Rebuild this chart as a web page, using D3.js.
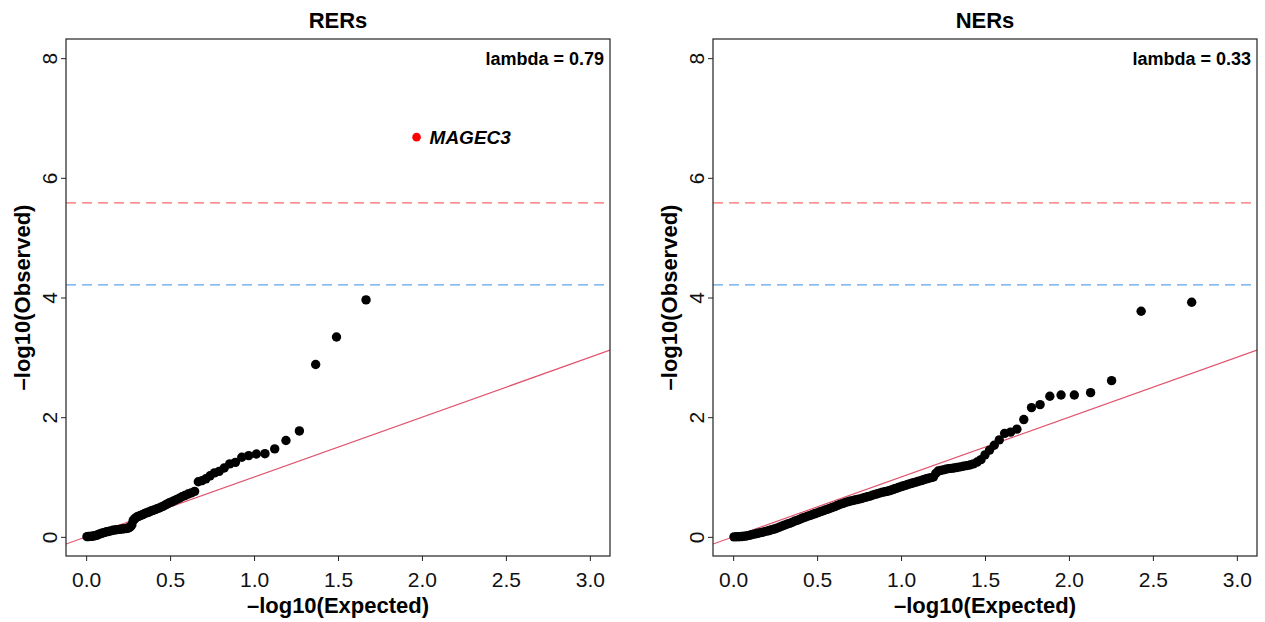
<!DOCTYPE html>
<html>
<head>
<meta charset="utf-8">
<script src="https://cdn.jsdelivr.net/npm/d3@7"></script>
<style>
  body { margin: 0; background: #fff; }
  text { font-family: "Liberation Sans", Arial, Helvetica, sans-serif; }
</style>
</head>
<body>
<script>
// QQ plots of RER and NER association p-values

var panelTitles = ["RERs", "NERs"];
var lambdas = ["0.79", "0.33"];

// thresholds (-log10 p) drawn as dashed horizontal lines
var thresholdValues = [5.58, 4.21];
var thresholdColors = ["#ff6b6b", "#5fa2e8"];

var xTicks = [0, 0.5, 1, 1.5, 2, 2.5, 3];
var yTicks = [0, 2, 4, 6, 8];

// highlighted hit in the RER panel
var hitGenes = ["MAGEC3"];
var hitExpected = [1.968];
var hitObserved = [6.68];

// RERs, sorted from largest to smallest
var rerExpected = [1.667, 1.491, 1.367, 1.270, 1.190, 1.123, 1.065, 1.014, 0.968, 0.927,
  0.889, 0.855, 0.822, 0.792, 0.764, 0.738, 0.713, 0.690, 0.668,
  0.646, 0.626, 0.607, 0.588, 0.571, 0.555, 0.539, 0.524, 0.510, 0.496,
  0.483, 0.470, 0.457, 0.445, 0.433, 0.422, 0.411, 0.400, 0.389, 0.379,
  0.369, 0.359, 0.349, 0.340, 0.331, 0.322, 0.313, 0.304, 0.296, 0.288,
  0.280, 0.272, 0.264, 0.256, 0.248, 0.240, 0.226, 0.212, 0.198, 0.185,
  0.172, 0.159, 0.146, 0.134, 0.122, 0.110, 0.099, 0.088, 0.077, 0.066,
  0.055, 0.045, 0.035, 0.024, 0.014, 0.005];
var rerObserved = [3.96, 3.34, 2.88, 1.77, 1.61, 1.47, 1.39, 1.385, 1.357, 1.33,
  1.245, 1.22, 1.15, 1.095, 1.07, 1.02, 0.97, 0.94, 0.92,
  0.76, 0.735, 0.715, 0.69, 0.67, 0.645, 0.625, 0.605, 0.585, 0.57,
  0.55, 0.53, 0.51, 0.495, 0.48, 0.47, 0.455, 0.445, 0.435, 0.42,
  0.41, 0.40, 0.39, 0.375, 0.365, 0.355, 0.345, 0.335, 0.32, 0.30,
  0.27, 0.20, 0.17, 0.155, 0.145, 0.14, 0.135, 0.13, 0.125, 0.12,
  0.115, 0.11, 0.10, 0.09, 0.085, 0.075, 0.065, 0.055, 0.045, 0.03,
  0.02, 0.015, 0.01, 0.008, 0.005, 0.003];

// NERs, sorted from largest to smallest
var nerExpected = [2.731, 2.430, 2.254, 2.129, 2.032, 1.953, 1.886, 1.828, 1.777, 1.731,
  1.690, 1.652, 1.617, 1.585, 1.555, 1.527, 1.500, 1.476,
  1.453, 1.431, 1.410, 1.390, 1.371, 1.352, 1.334, 1.316, 1.299, 1.283,
  1.267, 1.251, 1.236, 1.221, 1.207, 1.193, 1.179, 1.165, 1.152, 1.139,
  1.126, 1.113, 1.100, 1.088, 1.076, 1.064, 1.052, 1.040, 1.029, 1.018,
  1.007, 0.996, 0.985, 0.975, 0.965, 0.955, 0.945, 0.935, 0.925, 0.915,
  0.905, 0.890, 0.875, 0.860, 0.845, 0.830, 0.815, 0.800, 0.785, 0.770,
  0.755, 0.740, 0.725, 0.710, 0.695, 0.680, 0.665, 0.650, 0.635, 0.620,
  0.605, 0.590, 0.575, 0.560, 0.545, 0.530, 0.515, 0.500, 0.485, 0.470,
  0.455, 0.440, 0.425, 0.410, 0.395, 0.380, 0.365, 0.350, 0.335, 0.320,
  0.305, 0.290, 0.275, 0.260, 0.245, 0.230, 0.215, 0.200, 0.185, 0.170,
  0.155, 0.140, 0.125, 0.110, 0.095, 0.080, 0.065, 0.050, 0.035, 0.020, 0.005];
var nerObserved = [3.92, 3.77, 2.61, 2.41, 2.37, 2.37, 2.35, 2.21, 2.16, 1.96,
  1.80, 1.75, 1.73, 1.62, 1.53, 1.45, 1.37, 1.29,
  1.25, 1.22, 1.20, 1.19, 1.18, 1.17, 1.16, 1.15, 1.145, 1.14,
  1.13, 1.12, 1.11, 1.10, 1.06, 1.00, 0.99, 0.98, 0.97, 0.96,
  0.945, 0.935, 0.925, 0.915, 0.905, 0.895, 0.885, 0.875, 0.865, 0.855,
  0.845, 0.835, 0.825, 0.815, 0.805, 0.795, 0.785, 0.775, 0.768, 0.76,
  0.753, 0.745, 0.735, 0.72, 0.71, 0.695, 0.68, 0.67, 0.66, 0.645,
  0.635, 0.625, 0.615, 0.605, 0.595, 0.585, 0.57, 0.555, 0.54, 0.525,
  0.505, 0.49, 0.475, 0.46, 0.445, 0.43, 0.415, 0.40, 0.385, 0.37,
  0.355, 0.34, 0.325, 0.31, 0.29, 0.275, 0.26, 0.24, 0.225, 0.21,
  0.195, 0.18, 0.16, 0.145, 0.13, 0.12, 0.105, 0.095, 0.085, 0.075,
  0.065, 0.055, 0.045, 0.035, 0.025, 0.015, 0.01, 0.005, 0.002, 0.001, 0];

var svgWidth = 1265, svgHeight = 622;
var boxWidth = 544, boxHeight = 517, boxTop = 39;
var boxLefts = [66, 713];

var svg = d3.select("body")
  .append("svg")
  .attr("width", svgWidth)
  .attr("height", svgHeight);

svg.append("rect")
  .attr("width", svgWidth)
  .attr("height", svgHeight)
  .attr("fill", "#fff");

var panels = [
  { expected: rerExpected, observed: rerObserved, hits: true },
  { expected: nerExpected, observed: nerObserved, hits: false }
];

panels.forEach(function(p, i) {
  // R pads the axis ranges by 4% on each side
  var x = d3.scaleLinear().domain([-0.12, 3.12]).range([0, boxWidth]);
  var y = d3.scaleLinear().domain([-0.32, 8.32]).range([boxHeight, 0]);

  var g = svg.append("g")
    .attr("transform", "translate(" + boxLefts[i] + "," + boxTop + ")");

  g.append("defs").append("clipPath")
    .attr("id", "clip" + i)
    .append("rect")
    .attr("width", boxWidth)
    .attr("height", boxHeight);

  var plot = g.append("g").attr("clip-path", "url(#clip" + i + ")");

  // y = x reference
  plot.append("line")
    .attr("x1", x(-0.12)).attr("y1", y(-0.12))
    .attr("x2", x(3.12)).attr("y2", y(3.12))
    .attr("stroke", "#df536b")
    .attr("stroke-width", 1.2);

  thresholdValues.forEach(function(v, k) {
    plot.append("line")
      .attr("x1", 0).attr("x2", boxWidth)
      .attr("y1", y(v)).attr("y2", y(v))
      .attr("stroke", thresholdColors[k])
      .attr("stroke-width", 1.2)
      .attr("stroke-dasharray", "10,6");
  });

  plot.selectAll("circle.pt")
    .data(d3.range(p.expected.length))
    .enter().append("circle")
    .attr("class", "pt")
    .attr("cx", function(j) { return x(p.expected[j]); })
    .attr("cy", function(j) { return y(p.observed[j]); })
    .attr("r", 4.7)
    .attr("fill", "#000");

  if (p.hits) {
    plot.selectAll("circle.hit")
      .data(hitGenes)
      .enter().append("circle")
      .attr("class", "hit")
      .attr("cx", function(d, j) { return x(hitExpected[j]); })
      .attr("cy", function(d, j) { return y(hitObserved[j]); })
      .attr("r", 4.3)
      .attr("fill", "#ff0000");

    g.selectAll("text.hit")
      .data(hitGenes)
      .enter().append("text")
      .attr("class", "hit")
      .attr("x", function(d, j) { return x(hitExpected[j]) + 13; })
      .attr("y", function(d, j) { return y(hitObserved[j]) + 7; })
      .attr("font-size", 19)
      .attr("font-weight", "bold")
      .attr("font-style", "italic")
      .text(function(d) { return d; });
  }

  // axes
  var xAxis = g.append("g")
    .attr("transform", "translate(0," + boxHeight + ")")
    .call(d3.axisBottom(x).tickValues(xTicks).tickSize(5).tickFormat(d3.format(".1f")));
  xAxis.select(".domain").remove();
  xAxis.selectAll("line").attr("stroke", "#222");
  xAxis.selectAll("text")
    .attr("y", 31).attr("dy", 0)
    .attr("font-size", 21)
    .attr("font-family", "Liberation Sans, Arial, sans-serif")
    .attr("fill", "#111");

  var yAxis = g.append("g")
    .call(d3.axisLeft(y).tickValues(yTicks).tickSize(5).tickFormat(d3.format("d")));
  yAxis.select(".domain").remove();
  yAxis.selectAll("line").attr("stroke", "#222");
  yAxis.selectAll("text")
    .attr("x", null).attr("dy", null)
    .attr("text-anchor", "middle")
    .attr("transform", "translate(-9.5,0) rotate(-90)")
    .attr("font-size", 21)
    .attr("font-family", "Liberation Sans, Arial, sans-serif")
    .attr("fill", "#111");

  // frame
  g.append("rect")
    .attr("width", boxWidth)
    .attr("height", boxHeight)
    .attr("fill", "none")
    .attr("stroke", "#222")
    .attr("stroke-width", 1.2);

  g.append("text")
    .attr("x", boxWidth / 2)
    .attr("y", -11)
    .attr("text-anchor", "middle")
    .attr("font-size", 22)
    .attr("font-weight", "bold")
    .text(panelTitles[i]);

  g.append("text")
    .attr("x", boxWidth - 6)
    .attr("y", y(8) + 7)
    .attr("text-anchor", "end")
    .attr("font-size", 18)
    .attr("font-weight", "bold")
    .text("lambda = " + lambdas[i]);

  g.append("text")
    .attr("x", boxWidth / 2)
    .attr("y", boxHeight + 57)
    .attr("text-anchor", "middle")
    .attr("font-size", 22)
    .attr("font-weight", "bold")
    .text("\u2013log10(Expected)");

  g.append("text")
    .attr("transform", "translate(-36," + (boxHeight / 2) + ") rotate(-90)")
    .attr("text-anchor", "middle")
    .attr("font-size", 22)
    .attr("font-weight", "bold")
    .text("\u2013log10(Observed)");
});
</script>
</body>
</html>
